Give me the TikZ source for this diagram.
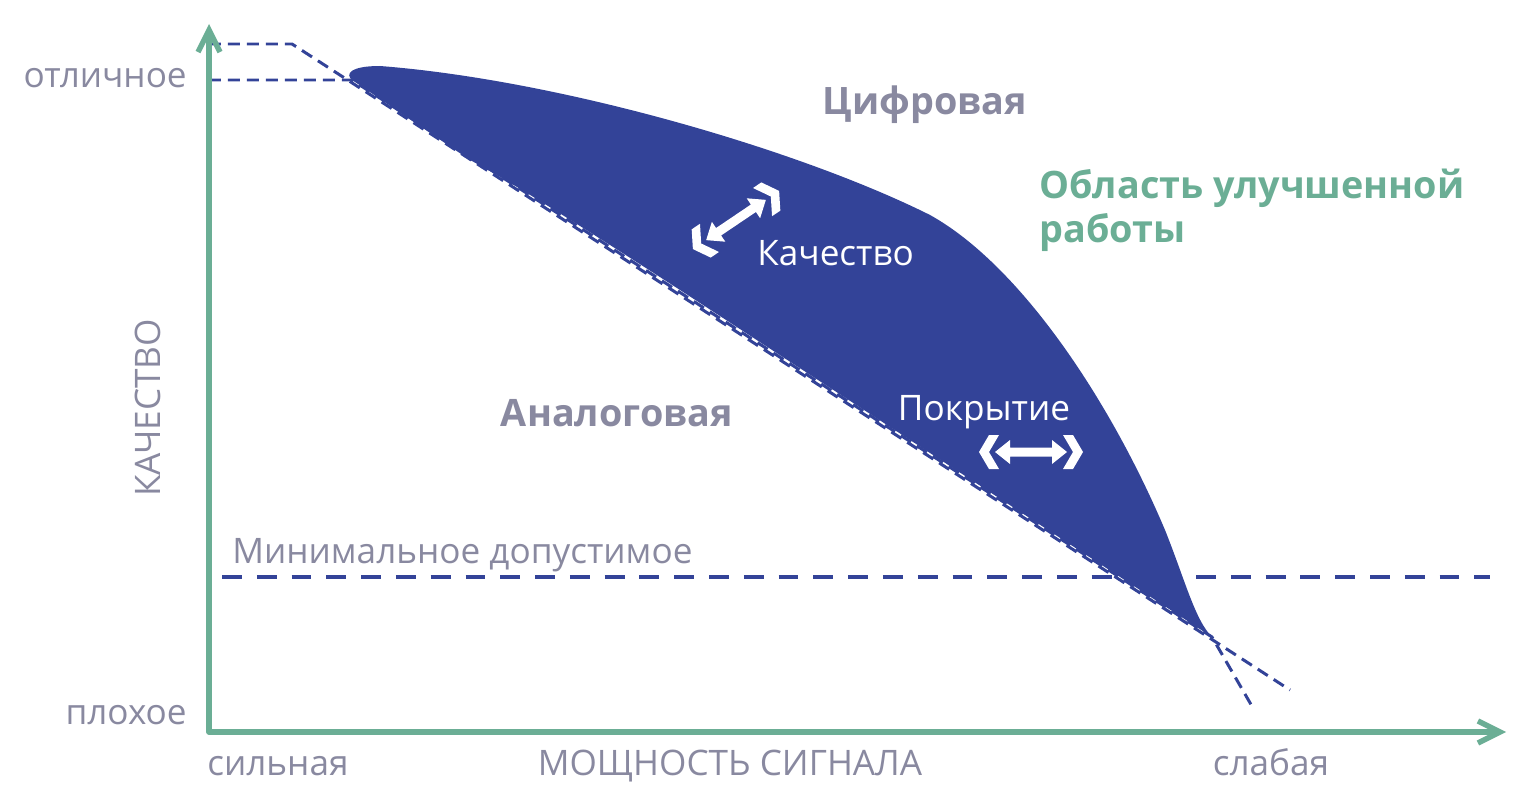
\documentclass[tikz,border=0pt]{standalone}
\usepackage{fontspec}
\setmainfont{Open Sans}
\usetikzlibrary{arrows.meta,positioning}
\definecolor{navy}{RGB}{51,67,152}
\definecolor{sage}{RGB}{107,174,149}
\definecolor{greytxt}{RGB}{137,137,160}
\tikzset{
	dblarrow/.pic={
		\fill[white] (-52,0) -- (-42,-17) -- (-32,-17) -- (-42,0) -- (-32,17) -- (-42,17) -- cycle;
		\fill[white] (52,0) -- (42,-17) -- (32,-17) -- (42,0) -- (32,17) -- (42,17) -- cycle;
		\fill[white] (-36,0) -- (-21,-12) -- (-21,-4.5) -- (21,-4.5) -- (21,-12) -- (36,0)
			-- (21,12) -- (21,4.5) -- (-21,4.5) -- (-21,12) -- cycle;
	}
}

\begin{document}
\begin{tikzpicture}[x=0.02cm,y=-0.02cm,
	axis/.style={sage,line width=3.1pt,line cap=round,line join=round,
		{Straight Barb[length=4.4mm,width=4.4mm]}-{Straight Barb[length=4.4mm,width=4.4mm]}},
	guide/.style={navy,line width=1.7pt,dash pattern=on 6.8pt off 4pt},
	minline/.style={navy,line width=2.8pt,dash pattern=on 11.3pt off 8.5pt},
	lbl/.style={greytxt,inner sep=0pt,font=\fontsize{20}{24}\selectfont},
	bold/.style={inner sep=0pt,font=\fontsize{21.5}{25.5}\selectfont\bfseries},
	inlbl/.style={white,inner sep=0pt,font=\fontsize{20}{24}\selectfont}]
	\useasboundingbox (0,0) rectangle (1534,807);
	% region between the two curves
	\fill[navy] (352,80) .. controls (345,74) and (350,66) .. (380,66)
		.. controls (560,80) and (800,150) .. (930,215)
		.. controls (1020,265) and (1110,400) .. (1165,530)
		.. controls (1185,580) and (1195,620) .. (1212,637)
		-- (700,303) .. controls (560,212) and (500,176) .. (470,160) -- cycle;
	\coordinate (knee) at (292,44);
	\coordinate (exc) at (352,80);
	\coordinate (cliff) at (1212,637);
	\draw[guide] (209,44) -- (knee) -- (1290,690);
	\draw[guide] (209,80) -- (exc) -- (cliff) -- (1253,708);
	\draw[minline] (222,577) -- (1490,577);
	% axes
	\coordinate (origin) at (209,732);
	\draw[axis] (209,24) -- (origin) -- (1506,732);
	% arrows inside the region
	\pic[rotate=34] at (736,220) {dblarrow};
	\pic at (1031,452) {dblarrow};
	% labels
	\node[lbl,anchor=base east] (good) at (187,88) {отличное};
	\node[lbl,anchor=base east] (bad) at (187,724) {плохое};
	\node[lbl,anchor=base west] (strong) at (207,775) {сильная};
	\node[lbl,anchor=base] (power) at (730,775) {МОЩНОСТЬ СИГНАЛА};
	\node[lbl,anchor=base] (weak) at (1271,775) {слабая};
	\node[lbl,anchor=base,rotate=90] (quality) at (160,408) {КАЧЕСТВО};
	\node[lbl,anchor=base west] (minlabel) at (232,563) {Минимальное допустимое};
	\node[bold,greytxt,anchor=base] (digital) at (925,115) {Цифровая};
	\node[bold,greytxt,anchor=base] (analog) at (617,426) {Аналоговая};
	\node[bold,sage,anchor=base west,align=left] (improved) at (1039,243) {Область улучшенной\\работы};
	\node[inlbl,anchor=base west] (qlabel) at (757,266) {Качество};
	\node[inlbl,anchor=base] (clabel) at (984,420) {Покрытие};
\end{tikzpicture}
\end{document}
